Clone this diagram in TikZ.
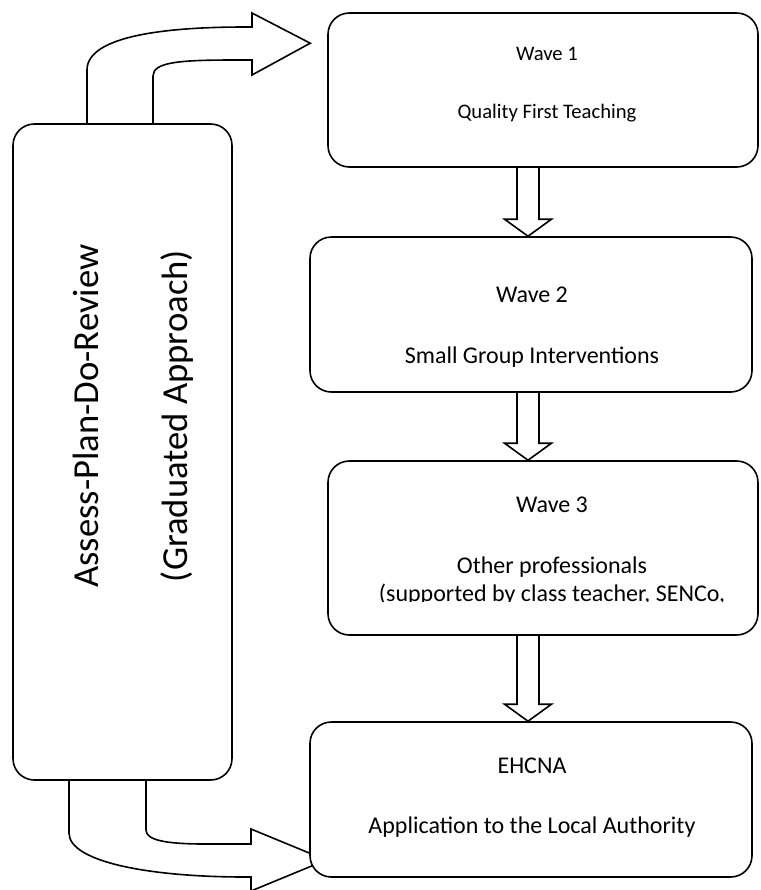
\documentclass[tikz,border=0pt]{standalone}
\usepackage{fontspec}
\setmainfont{Carlito}
\usetikzlibrary{calc,backgrounds}
\newcommand\blockdown[2]{%
  \draw[arrowshape] ($(#1)+(-11,0)$) -- ($(#2)+(-11,-17)$) -- ($(#2)+(-23.5,-17)$) -- (#2)
    -- ($(#2)+(23.5,-17)$) -- ($(#2)+(11,-17)$) -- ($(#1)+(11,0)$);}
\begin{document}
\begin{tikzpicture}[x=0.75pt,y=-0.75pt,
  box/.style={draw,line width=1.2pt,fill=white,rounded corners=16pt,inner sep=0pt},
  arrowshape/.style={draw,line width=1.2pt,fill=white,line join=miter},
  txt/.style={anchor=base,inner sep=0pt,font=\fontsize{18pt}{20pt}\selectfont},
  smalltxt/.style={anchor=base,inner sep=0pt,font=\fontsize{15.5pt}{18pt}\selectfont},
  sidetxt/.style={anchor=base,inner sep=0pt,rotate=90,font=\fontsize{27.5pt}{30pt}\selectfont}]
\path[use as bounding box] (0,0) rectangle (761,890);

% boxes
\node[box,minimum width=164.25pt,minimum height=492pt] (L) at (122.5,452) {};
\node[box,minimum width=322.5pt,minimum height=115.5pt] (W1) at (543,90) {};
\node[box,minimum width=331.5pt,minimum height=116.25pt] (W2) at (531,314.5) {};
\node[box,minimum width=322.5pt,minimum height=130.5pt] (W3) at (543,548) {};
\node[box,minimum width=331.5pt,minimum height=116.25pt] (E) at (531,799.5) {};

% texts
\node[sidetxt] (t1) at (98,416) {Assess-Plan-Do-Review};
\node[sidetxt] (t2) at (187,416) {(Graduated Approach)};
\node[smalltxt] (w1a) at (547,60) {Wave 1};
\node[smalltxt] (w1b) at (547,118) {Quality First Teaching};
\node[txt] (w2a) at (532,302) {Wave 2};
\node[txt] (w2b) at (532,363) {Small Group Interventions};
\node[txt] (w3a) at (552,512) {Wave 3};
\node[txt] (w3b) at (552,573) {Other professionals};
\begin{scope}
  \clip (W3.north west) rectangle ($(W3.south east)+(0,-34.5)$);
  \node[txt] (w3c) at (552,601) {(supported by class teacher, SENCo,};
\end{scope}
\node[txt] (e1) at (532,773) {EHCNA};
\node[txt] (e2) at (532,833) {Application to the Local Authority};

% connectors
\begin{scope}[on background layer]
  % top curved arrow
  \coordinate (ta) at ($(L.north)+(-35.5,0)$);
  \coordinate (tb) at ($(L.north)+(30.5,0)$);
  \coordinate (ttip) at ($(W1.north west)+(-17,31)$);
  \draw[arrowshape] (ta) -- (87,70) .. controls (87,35) and (170,27) .. (245,27) -- (252,27)
    -- (252,13) -- (ttip) -- (252,75) -- (252,60) -- (235,60)
    .. controls (180,60) and (153,62) .. (153,76) -- (tb);
  % bottom curved arrow
  \coordinate (ba) at ($(L.south)+(-53.5,0)$);
  \coordinate (bb) at ($(L.south)+(23.5,0)$);
  \coordinate (btip) at ($(E.west)+(17,60.5)$);
  \draw[arrowshape] (ba) -- (69,833) .. controls (69,862) and (150,877) .. (245,877) -- (251,877)
    -- (251,891) -- (btip) -- (251,829) -- (251,844) -- (205,844)
    .. controls (165,844) and (146,840) .. (146,830) -- (bb);
  % straight block arrows
  \coordinate (d1s) at ($(W1.south)+(-15,0)$);
  \coordinate (d1t) at (d1s |- W2.north);
  \blockdown{d1s}{d1t}
  \coordinate (d2s) at ($(W2.south)+(-3,0)$);
  \coordinate (d2t) at (d2s |- W3.north);
  \blockdown{d2s}{d2t}
  \coordinate (d3s) at ($(W3.south)+(-15,0)$);
  \coordinate (d3t) at (d3s |- E.north);
  \blockdown{d3s}{d3t}
\end{scope}
\end{tikzpicture}
\end{document}
